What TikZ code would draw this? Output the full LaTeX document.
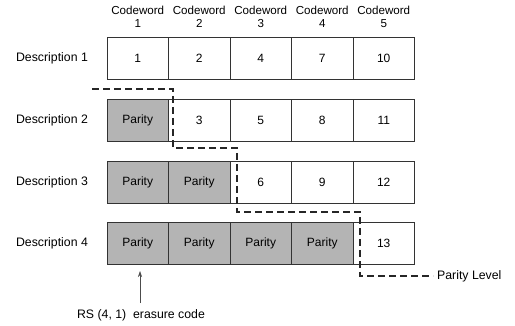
\documentclass[tikz,border=0pt]{standalone}
\usepackage{fontspec}
\setmainfont{Liberation Sans}
\usetikzlibrary{arrows.meta,calc}
\definecolor{cellgray}{HTML}{B4B4B4}
\definecolor{linegray}{HTML}{333333}
\tikzset{
  cell/.style={draw=linegray,line width=0.9pt,minimum width=61.5pt,minimum height=42pt,inner sep=0pt,font=\fontsize{12}{14}\selectfont},
  par/.style={cell,fill=cellgray},
  lbl/.style={font=\fontsize{12.3}{14}\selectfont,inner sep=0pt},
  cw/.style={font=\fontsize{11.6}{13.5}\selectfont,align=center,inner sep=0pt},
  plevel/.style={draw=black!85,line width=1.6pt,dash pattern=on 7pt off 4pt},
}
\begin{document}
\begin{tikzpicture}[x=1pt,y=-1pt]
\useasboundingbox (0,0) rectangle (515,326);
% codeword headers
\foreach \i/\x in {1/137.75,2/199.25,3/260.75,4/322.25,5/383.75}
  \node[cw] (h\i) at (\x,17) {Codeword\\\i};
% row labels
\foreach \r/\y in {1/58.5,2/120,3/182,4/243}
  \node[lbl] (d\r) at (52,\y) {Description \r};
% row 1
\node[cell] (c11) at (137.75,58.5) {1};
\node[cell] (c12) at (199.25,58.5) {2};
\node[cell] (c13) at (260.75,58.5) {4};
\node[cell] (c14) at (322.25,58.5) {7};
\node[cell] (c15) at (383.75,58.5) {10};
% row 2
\node[par] (c21) at (137.75,120) {Parity};
\node[cell] (c22) at (199.25,120) {3};
\node[cell] (c23) at (260.75,120) {5};
\node[cell] (c24) at (322.25,120) {8};
\node[cell] (c25) at (383.75,120) {11};
% row 3
\node[par] (c31) at (137.75,182) {Parity};
\node[par] (c32) at (199.25,182) {Parity};
\node[cell] (c33) at (260.75,182) {6};
\node[cell] (c34) at (322.25,182) {9};
\node[cell] (c35) at (383.75,182) {12};
% row 4
\node[par] (c41) at (137.75,243) {Parity};
\node[par] (c42) at (199.25,243) {Parity};
\node[par] (c43) at (260.75,243) {Parity};
\node[par] (c44) at (322.25,243) {Parity};
\node[cell] (c45) at (383.75,243) {13};
% parity level line
\node[lbl,anchor=west] (pl) at (437,276) {Parity Level};
\coordinate (p0) at (92,89);
\coordinate (p1) at (173,89);
\coordinate (p2) at (173,148);
\coordinate (p3) at (237,148);
\coordinate (p4) at (237,212);
\coordinate (p5) at (360,212);
\coordinate (p6) at (360,276);
\draw[plevel] (p0) -- (p1) -- (p2) -- (p3) -- (p4) -- (p5) -- (p6) -- ($(pl.west)+(-4,0)$);
% RS arrow
\node[lbl] (rs) at (141,315) {RS (4, 1)\ \ erasure code};
\coordinate (atip) at (140,271);
\draw[line width=0.6pt,draw=black!70,-{Stealth[length=6pt,width=4pt]}] ($(rs.north)+(-1,-6)$) -- (atip);
\end{tikzpicture}
\end{document}
